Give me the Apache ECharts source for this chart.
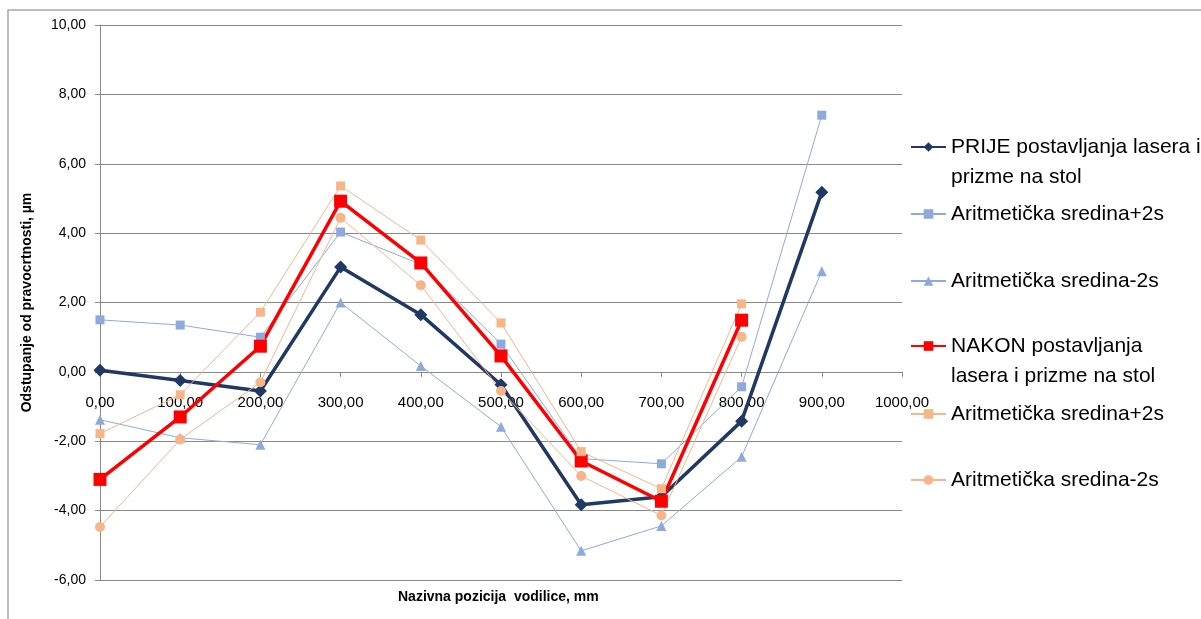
<!DOCTYPE html>
<html>
<head>
<meta charset="utf-8">
<script src="https://cdn.jsdelivr.net/npm/echarts@6/dist/echarts.min.js"></script>
<style>
  html, body { margin: 0; padding: 0; background: #fff; }
  #chart { width: 1201px; height: 619px; }
</style>
</head>
<body>
<div id="chart"></div>
<script>
// x positions, mm
const positions = [0, 100, 200, 300, 400, 500, 600, 700, 800, 900];

// deviations, µm
const prije = [0.05, -0.25, -0.55, 3.02, 1.65, -0.37, -3.83, -3.60, -1.42, 5.18];
const prijePlus = [1.50, 1.35, 1.00, 4.03, 3.10, 0.80, -2.50, -2.65, -0.43, 7.40];
const prijeMinus = [-1.38, -1.90, -2.10, 2.00, 0.17, -1.58, -5.16, -4.44, -2.45, 2.90];
const nakon = [-3.10, -1.30, 0.74, 4.92, 3.14, 0.46, -2.57, -3.73, 1.49];
const nakonPlus = [-1.78, -0.66, 1.72, 5.36, 3.80, 1.41, -2.30, -3.37, 1.96];
const nakonMinus = [-4.47, -1.95, -0.30, 4.44, 2.50, -0.55, -3.00, -4.14, 1.01];

const seriesNames = [
  "PRIJE postavljanja lasera i prizme na stol",
  "Aritmetička sredina+2s",
  "Aritmetička sredina-2s",
  "NAKON postavljanja lasera i prizme na stol",
  "Aritmetička sredina+2s\u200b",
  "Aritmetička sredina-2s\u200b",
];
// a blank first line keeps the icon level with the first text line
const legendTexts = [
  " \nPRIJE postavljanja lasera i\nprizme na stol",
  "Aritmetička sredina+2s",
  "Aritmetička sredina-2s",
  " \nNAKON postavljanja\nlasera i prizme na stol",
  "Aritmetička sredina+2s",
  "Aritmetička sredina-2s",
];

const fmt = (v) => v.toFixed(2).replace(".", ",");
const pairs = (ys) => ys.map((y, i) => [positions[i], y]);

const chart = echarts.init(document.getElementById("chart"));

const legendTops = [102, 199, 266, 301, 399, 465];

chart.setOption({
  animation: false,
  textStyle: { fontFamily: "Liberation Sans, Arial, sans-serif" },
  graphic: [
    {
      type: "rect",
      shape: { x: 8, y: 10, width: 1300, height: 700 },
      style: { fill: "none", stroke: "#a6a6a6", lineWidth: 1.5 },
      silent: true,
    },
    {
      type: "text",
      left: 398,
      top: 590,
      style: {
        text: "Nazivna pozicija  vodilice, mm",
        fontSize: 14,
        fontWeight: "bold",
        fill: "#000",
        fontFamily: "Liberation Sans, Arial, sans-serif",
      },
    },
  ],
  grid: { left: 100, right: 299, top: 25, bottom: 39, containLabel: false },
  legend: seriesNames.map((name, i) => ({
    data: [name],
    orient: "vertical",
    left: 910,
    top: legendTops[i],
    padding: 0,
    itemWidth: 35,
    itemHeight: 12,
    selectedMode: false,
    formatter: () => legendTexts[i],
    textStyle: { fontSize: 21, color: "#000", lineHeight: 30 },
  })),
  xAxis: {
    type: "value",
    min: 0,
    max: 1000,
    interval: 100,
    position: "bottom",
    axisLine: { onZero: false, lineStyle: { color: "#898989", width: 1 } },
    axisTick: { show: true, length: 5, lineStyle: { color: "#898989" } },
    axisLabel: { color: "#000", fontSize: 15, margin: 23, formatter: fmt },
    splitLine: { show: false },
  },
  yAxis: {
    type: "value",
    min: -6,
    max: 10,
    interval: 2,
    name: "Odstupanje od pravocrtnosti, µm",
    nameLocation: "middle",
    nameGap: 66,
    nameTextStyle: { fontSize: 14, fontWeight: "bold", color: "#000" },
    axisLine: { show: true, onZero: false, lineStyle: { color: "#898989", width: 1 } },
    axisTick: { show: true, length: 5, lineStyle: { color: "#898989" } },
    axisLabel: { color: "#000", fontSize: 14, margin: 14, formatter: fmt },
    splitLine: { show: true, lineStyle: { color: "#898989", width: 1 } },
  },
  series: [
    {
      name: seriesNames[0],
      type: "line",
      data: pairs(prije),
      symbol: "diamond",
      symbolSize: 13,
      color: "#1f3864",
      lineStyle: { width: 3.5 },
    },
    {
      name: seriesNames[1],
      type: "line",
      data: pairs(prijePlus),
      symbol: "rect",
      symbolSize: 9,
      color: "#8eaadc",
      lineStyle: { width: 1 },
    },
    {
      name: seriesNames[2],
      type: "line",
      data: pairs(prijeMinus),
      symbol: "triangle",
      symbolSize: 10,
      color: "#8eaadc",
      lineStyle: { width: 1 },
    },
    {
      name: seriesNames[3],
      type: "line",
      data: pairs(nakon),
      symbol: "rect",
      symbolSize: 13,
      color: "#ff0000",
      lineStyle: { width: 3.5 },
    },
    {
      name: seriesNames[4],
      type: "line",
      data: pairs(nakonPlus),
      symbol: "rect",
      symbolSize: 9,
      color: "#f7b58a",
      lineStyle: { width: 1 },
    },
    {
      name: seriesNames[5],
      type: "line",
      data: pairs(nakonMinus),
      symbol: "circle",
      symbolSize: 10,
      color: "#f7b58a",
      lineStyle: { width: 1 },
    },
  ],
});

// move the x axis up to the y = 0 line, as in the original
const y0 = chart.convertToPixel({ yAxisIndex: 0 }, 0);
const yBottom = chart.convertToPixel({ yAxisIndex: 0 }, -6);
chart.setOption({ xAxis: { offset: y0 - yBottom } });
</script>
</body>
</html>
